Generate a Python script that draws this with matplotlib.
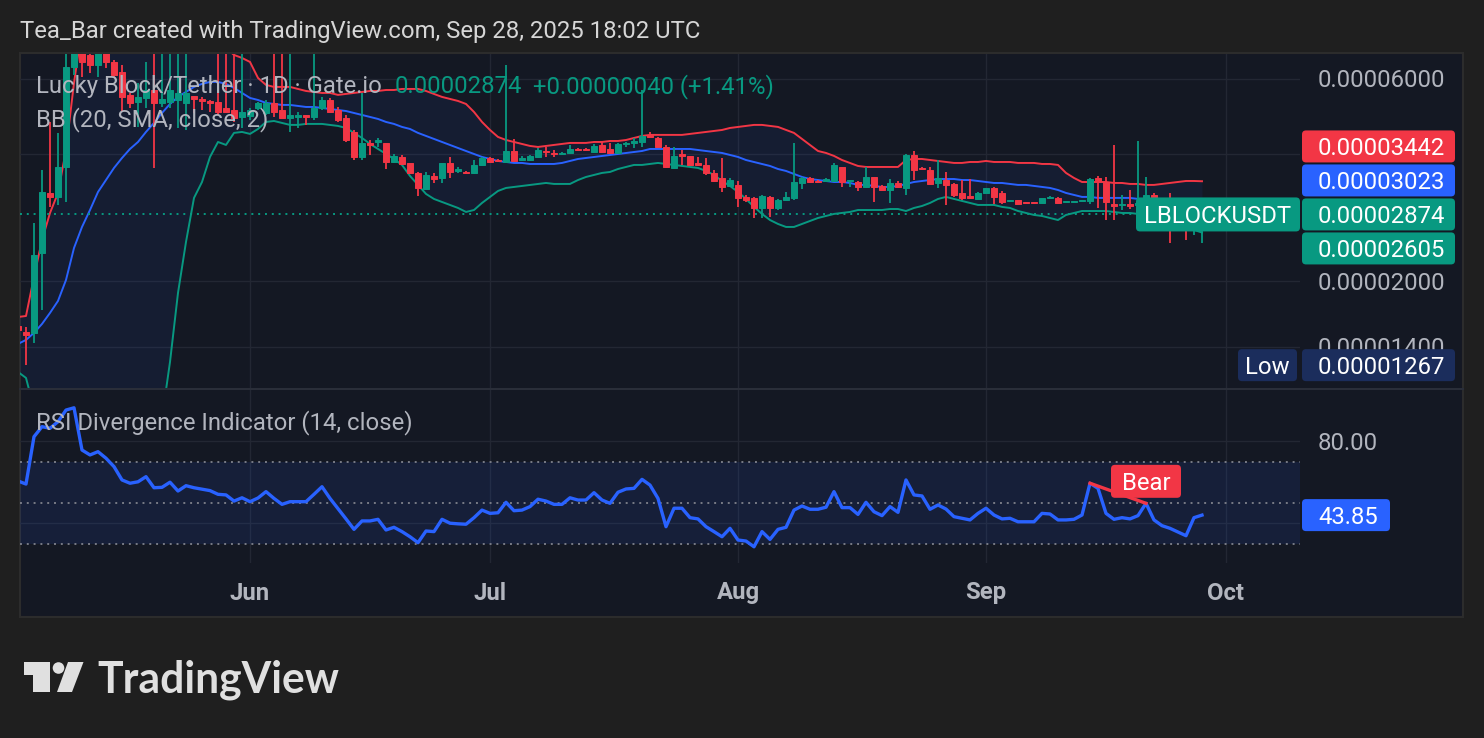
import numpy as np
import pandas as pd
import matplotlib
matplotlib.use("Agg")
import matplotlib.pyplot as plt
import matplotlib.dates as mdates
import matplotlib.transforms as mtransforms
from matplotlib.patches import Rectangle, FancyBboxPatch, Polygon, Circle
from matplotlib.lines import Line2D

plt.rcParams['font.family'] = ['Roboto', 'DejaVu Sans']

# LBLOCK/USDT daily candles on Gate.io, prices in units of 1e-8 USDT
dates = pd.date_range('2025-05-03', '2025-09-28', freq='D')

opens = [1568, 1518, 1510, 2332, 3230, 3161, 3720, 6406, 7338, 6838,
         6476, 6913, 6582, 6234, 5503, 5296, 5413, 5652, 5268, 5296,
         5353, 5268, 5473, 5383, 5325, 5296, 5126, 5069, 4882, 4909,
         5126, 4989, 5268, 5069, 4856, 4882, 4936, 4882, 5126, 5353,
         5069, 4856, 4500, 3928, 4239, 4261, 4239, 3822, 3928, 3802,
         3601, 3300, 3543, 3504, 3802, 3640, 3620, 3601, 3761, 3906,
         3863, 3822, 4057, 3863, 3863, 3928, 4057, 4014, 3993, 4014,
         4102, 4102, 4036, 4193, 4102, 4014, 4216, 4239, 4261, 4428,
         4355, 4147, 3700, 3993, 3950, 3802, 3761, 3601, 3504, 3355,
         3374, 3161, 3144, 2977, 3161, 2977, 3109, 3144, 3410, 3504,
         3447, 3447, 3447, 3720, 3447, 3428, 3337, 3523, 3355, 3282,
         3410, 3319, 3971, 3700, 3659, 3410, 3465, 3392, 3230, 3178,
         3126, 3230, 3319, 3230, 3092, 3109, 3076, 3076, 3059, 3144,
         3144, 3076, 3076, 3092, 3092, 3504, 3428, 3042, 3026, 3042,
         3026, 3059, 3196, 3126, 3026, 2714, 2866, 2714, 2834]
highs = [1576, 1559, 2744, 3659, 4751, 4476, 7220, 7831, 7831, 7220,
         7220, 7220, 6653, 6476, 5562, 5873, 6582, 7220, 7220, 7220,
         7220, 7220, 5473, 5443, 5353, 7220, 7220, 7220, 7220, 5126,
         5296, 5353, 7220, 7220, 7220, 5016, 4936, 7220, 5443, 5413,
         5154, 4936, 4548, 5562, 4307, 4355, 4239, 3993, 3971, 3802,
         3620, 3620, 3601, 3802, 3928, 3720, 3640, 3863, 3928, 3928,
         3885, 6476, 4331, 3950, 3971, 4125, 4147, 4079, 4036, 4193,
         4125, 4125, 4216, 4261, 4239, 4239, 4261, 4355, 5652, 4500,
         4379, 4193, 4147, 4079, 3950, 3928, 3906, 3659, 3906, 3504,
         3447, 3196, 3161, 3196, 3178, 3126, 3247, 4239, 3523, 3523,
         3465, 3504, 3802, 3720, 3465, 3447, 3720, 3523, 3374, 3484,
         3447, 3993, 4057, 3720, 3720, 3863, 3620, 3410, 3465, 3484,
         3247, 3319, 3337, 3265, 3109, 3109, 3076, 3076, 3144, 3178,
         3161, 3092, 3092, 3109, 3504, 3543, 3523, 4193, 3196, 3282,
         4284, 3523, 3230, 3120, 3230, 2819, 2944, 2874, 2944]
lows = [1518, 1267, 1430, 1710, 2994, 3026, 3076, 6134, 6067, 6200,
        6067, 6371, 6034, 5016, 5126, 4624, 5126, 3700, 5154, 5126,
        4598, 4548, 4989, 5069, 5016, 4936, 4989, 4751, 4598, 4802,
        5069, 4936, 4882, 4856, 4500, 4598, 4675, 4802, 5069, 4989,
        4751, 4261, 3863, 3863, 3971, 4147, 3679, 3802, 3761, 3601,
        3178, 3282, 3410, 3410, 3504, 3601, 3581, 3581, 3740, 3802,
        3822, 3802, 3822, 3843, 3843, 3906, 3928, 3928, 3971, 3993,
        4057, 4057, 4014, 4014, 4014, 3993, 4147, 4125, 4147, 4379,
        4147, 3700, 3679, 3761, 3761, 3761, 3562, 3428, 3247, 3337,
        2994, 3076, 2819, 2819, 2835, 2944, 3092, 3109, 3300, 3410,
        3410, 3428, 3428, 3337, 3337, 3265, 3319, 3076, 3265, 3059,
        3319, 3196, 3465, 3679, 3374, 3319, 3026, 3161, 3109, 3126,
        3109, 3230, 3042, 3042, 3076, 3042, 3059, 3059, 3059, 3144,
        3042, 3076, 3076, 3092, 3042, 2977, 2788, 2788, 2944, 2960,
        2897, 3042, 3109, 2866, 2461, 2670, 2501, 2571, 2461]
closes = [1534, 1494, 2306, 3247, 3161, 3720, 6406, 7338, 6582, 6476,
          6913, 6582, 6134, 5443, 5268, 5443, 5652, 5268, 5383, 5652,
          5562, 5562, 5383, 5325, 5268, 5016, 5016, 4856, 5016, 5069,
          5268, 5268, 5016, 4856, 4936, 4936, 4882, 5126, 5353, 5016,
          4802, 4307, 3928, 4239, 4193, 4307, 3822, 3950, 3781, 3601,
          3319, 3562, 3484, 3802, 3620, 3679, 3601, 3761, 3906, 3822,
          3843, 4057, 3843, 3906, 3950, 4079, 4036, 3993, 4014, 4102,
          4079, 4079, 4170, 4036, 4014, 4216, 4239, 4284, 4403, 4379,
          4147, 3720, 3950, 3950, 3761, 3761, 3601, 3447, 3337, 3465,
          3144, 3109, 2977, 3178, 2977, 3109, 3161, 3428, 3504, 3428,
          3428, 3484, 3761, 3428, 3465, 3337, 3523, 3337, 3282, 3410,
          3337, 3971, 3659, 3679, 3392, 3504, 3374, 3196, 3144, 3144,
          3230, 3319, 3161, 3076, 3109, 3042, 3059, 3059, 3144, 3161,
          3059, 3092, 3092, 3109, 3484, 3447, 3076, 3009, 3042, 3009,
          3059, 3196, 3126, 2944, 2714, 2788, 2714, 2834, 2874]

# Bollinger Bands (20, SMA, close, 2), same units
bb_upper = [1646, 1655, 2047, 2501, 2897, 3230, 4079, 5873, 7900, 8500,
            9000, 9300, 9500, 9500, 9400, 9200, 9000, 8800, 8500, 8200,
            7900, 7700, 7500, 7400, 7300, 7200, 7100, 6838, 6727, 6582,
            6034, 5810, 5747, 5747, 5747, 5684, 5622, 5592, 5562, 5562,
            5503, 5532, 5562, 5592, 5622, 5622, 5652, 5652, 5684, 5684,
            5684, 5622, 5532, 5443, 5383, 5325, 5239, 5016, 4751, 4548,
            4379, 4307, 4261, 4216, 4170, 4147, 4170, 4193, 4216, 4239,
            4239, 4239, 4261, 4261, 4284, 4284, 4307, 4355, 4403, 4428,
            4428, 4428, 4428, 4428, 4452, 4476, 4500, 4524, 4548, 4598,
            4624, 4649, 4675, 4675, 4649, 4624, 4548, 4476, 4331, 4193,
            4057, 4014, 3950, 3863, 3802, 3740, 3720, 3720, 3720, 3720,
            3720, 3863, 3885, 3885, 3863, 3843, 3822, 3802, 3802, 3822,
            3822, 3843, 3822, 3822, 3822, 3802, 3802, 3802, 3781, 3781,
            3761, 3601, 3504, 3428, 3428, 3428, 3428, 3410, 3410, 3392,
            3392, 3374, 3374, 3392, 3410, 3428, 3447, 3447, 3442]
bb_basis = [1422, 1453, 1510, 1585, 1683, 1796, 2013, 2395, 2685, 2944,
            3247, 3465, 3700, 3906, 4102, 4261, 4500, 4726, 4989, 5239,
            5443, 5592, 5747, 5842, 5905, 5905, 5842, 5715, 5562, 5413,
            5353, 5268, 5239, 5211, 5211, 5182, 5154, 5154, 5126, 5097,
            5069, 5042, 4989, 4936, 4882, 4829, 4751, 4700, 4624, 4573,
            4476, 4403, 4331, 4261, 4193, 4125, 4057, 3993, 3928, 3885,
            3843, 3822, 3802, 3802, 3781, 3781, 3781, 3781, 3802, 3843,
            3885, 3906, 3928, 3950, 3971, 3993, 4014, 4036, 4057, 4102,
            4102, 4102, 4102, 4102, 4102, 4079, 4057, 4036, 4014, 3971,
            3928, 3863, 3822, 3781, 3740, 3679, 3640, 3581, 3523, 3484,
            3465, 3447, 3428, 3428, 3410, 3374, 3374, 3355, 3337, 3337,
            3355, 3392, 3428, 3447, 3465, 3484, 3484, 3484, 3465, 3465,
            3447, 3428, 3410, 3410, 3392, 3374, 3374, 3355, 3337, 3319,
            3282, 3230, 3196, 3161, 3161, 3144, 3144, 3144, 3144, 3144,
            3126, 3109, 3092, 3076, 3076, 3059, 3042, 3042, 3023]
bb_lower = [1221, 1182, 1000, 820, 700, 620, 420, 300, 250, 240,
            260, 300, 360, 430, 500, 580, 680, 800, 950, 1289,
            1876, 2475, 3144, 3428, 3928, 4261, 4193, 4476, 4500, 4452,
            4573, 4751, 4776, 4726, 4675, 4675, 4700, 4700, 4700, 4675,
            4649, 4598, 4476, 4355, 4216, 4102, 3993, 3885, 3761, 3543,
            3374, 3213, 3126, 3076, 3026, 2977, 2913, 2944, 3059, 3161,
            3265, 3319, 3337, 3355, 3374, 3392, 3410, 3392, 3392, 3392,
            3465, 3523, 3562, 3601, 3620, 3679, 3720, 3761, 3761, 3781,
            3802, 3781, 3761, 3740, 3720, 3700, 3640, 3562, 3447, 3355,
            3247, 3126, 2994, 2882, 2788, 2729, 2685, 2685, 2729, 2773,
            2819, 2850, 2882, 2897, 2913, 2944, 2944, 2944, 2944, 2960,
            2960, 2928, 2977, 3009, 3059, 3126, 3161, 3126, 3092, 3059,
            3026, 3026, 3026, 2994, 2977, 2928, 2897, 2866, 2850, 2819,
            2788, 2866, 2897, 2928, 2928, 2928, 2928, 2913, 2897, 2897,
            2882, 2866, 2835, 2788, 2759, 2714, 2670, 2641, 2605]

# RSI (14, close)
rsi = [60.5, 59.0, 82.1, 87.0, 86.2, 89.4, 95.1, 96.2, 75.6, 73.2,
       74.8, 71.6, 67.5, 61.0, 59.4, 60.1, 62.6, 57.2, 57.4, 59.9,
       55.6, 58.2, 57.2, 56.5, 55.8, 54.0, 53.7, 50.7, 52.3, 50.4,
       52.2, 55.3, 52.0, 49.1, 50.4, 50.4, 50.4, 54.0, 57.7, 52.0,
       47.0, 42.0, 36.9, 41.0, 41.0, 41.8, 36.6, 37.9, 35.8, 33.3,
       30.4, 36.1, 35.8, 41.8, 39.9, 39.6, 39.4, 42.6, 46.3, 44.7,
       45.0, 50.1, 46.0, 46.3, 48.0, 51.6, 50.7, 49.1, 49.1, 52.3,
       51.2, 51.2, 54.8, 51.2, 49.6, 55.0, 56.6, 56.9, 61.3, 58.5,
       52.0, 38.2, 47.2, 47.2, 42.6, 42.0, 38.2, 35.8, 33.3, 37.4,
       31.7, 31.2, 28.4, 35.8, 32.0, 36.9, 37.9, 46.3, 48.3, 46.7,
       46.7, 47.7, 55.3, 47.5, 47.5, 44.2, 50.1, 45.5, 43.6, 48.0,
       45.2, 61.0, 53.7, 53.2, 46.7, 48.8, 46.8, 43.1, 42.3, 41.5,
       44.7, 47.2, 43.9, 42.0, 42.3, 40.6, 40.6, 40.6, 44.7, 44.4,
       41.5, 41.5, 41.8, 43.9, 59.4, 56.9, 44.7, 41.8, 42.6, 42.0,
       43.6, 49.6, 41.5, 38.7, 37.4, 35.6, 33.8, 42.6, 43.85]
bear_dates = pd.to_datetime(['2025-09-14', '2025-09-21'])

month_ticks = pd.to_datetime(['2025-06-01', '2025-07-01', '2025-08-01', '2025-09-01', '2025-10-01'])
month_labels = ['Jun', 'Jul', 'Aug', 'Sep', 'Oct']
price_grid = [6000, 4000, 2000, 1400]
price_labels = [6000, 2000, 1400]   # 4000 sits under the band tags
rsi_grid = [80, 40]
rsi_levels = [70, 50, 30]

SCALE = 1e-8
o, h, l, c = (np.array(a, dtype=float) * SCALE for a in (opens, highs, lows, closes))
bbu, bbm, bbl = (np.array(a, dtype=float) * SCALE for a in (bb_upper, bb_basis, bb_lower))
rsi = np.array(rsi)
x = mdates.date2num(dates)

# colours
BG_OUT = '#1f1f1f'
BG = '#141823'
GRID = '#232733'
UP = '#089981'
DN = '#f23645'
BLUE = '#2962ff'
TXT = '#b2b5be'
FS = 17.2
HALF_CAP = 8.5   # half the digit height in px, to centre digits on a row

W, H = 1484, 738
fig = plt.figure(figsize=(W / 100, H / 100), dpi=100, facecolor=BG_OUT)
ID = mtransforms.IdentityTransform()


def frac(x0, y0, x1, y1):
    return [x0 / W, 1 - y1 / H, (x1 - x0) / W, (y1 - y0) / H]


def ypx(axis, v):
    # pixel row (from top) of a data value
    return H - axis.transData.transform((axis.get_xlim()[0], v))[1]


def xpx(axis, v):
    return axis.transData.transform((v, axis.get_ylim()[0]))[0]


def label(xp, yc, text, color=TXT, ha='left', fs=FS, z=5, **kw):
    # text whose capitals are centred on row yc
    fig.text(xp, H - yc - HALF_CAP, text, transform=ID, color=color, fontsize=fs,
             ha=ha, va='baseline', zorder=z, **kw)


def tag(x0, x1, yc, color, text, hgt=32, center=False):
    fig.add_artist(FancyBboxPatch((x0, H - yc - hgt / 2), x1 - x0, hgt,
                                  boxstyle="round,pad=0,rounding_size=4", transform=ID,
                                  facecolor=color, edgecolor='none', zorder=10))
    tx = (x0 + x1) / 2 if center else x0 + 16
    label(tx, yc, text, color='white', ha='center' if center else 'left', z=11)


# chart frame
fig.add_artist(Rectangle((20, H - 617), 1443, 564, transform=ID, facecolor=BG,
                         edgecolor='#2c2c2c', lw=1.5, zorder=-10))
fig.text(20, H - 38, 'Tea_Bar created with TradingView.com, Sep 28, 2025 18:02 UTC',
         transform=ID, color='#d6d6d6', fontsize=17.2, va='baseline')

jun1 = mdates.date2num(pd.Timestamp('2025-06-01'))

# ---- price pane ----
ax = fig.add_axes(frac(20, 54, 1300, 388))
ax.set_axis_off()
ax.set_yscale('log')
ax.set_xlim(jun1 - 28.75, jun1 + 131.25)
ax.set_ylim(1119 * SCALE, 6873 * SCALE)

for p in price_grid:
    ax.axhline(p * SCALE, color=GRID, lw=1, zorder=0)
for m in month_ticks:
    ax.axvline(mdates.date2num(m), color=GRID, lw=1, zorder=0)

ax.fill_between(x, bbl, bbu, color=BLUE, alpha=0.07, lw=0, zorder=1)
ax.plot(x, bbu, color=DN, lw=1.4, zorder=2)
ax.plot(x, bbm, color=BLUE, lw=1.4, zorder=2)
ax.plot(x, bbl, color=UP, lw=1.4, zorder=2)

cols = np.where(c >= o, UP, DN)
ax.vlines(x, l, h, colors=cols, lw=1.3, zorder=3)
ax.bar(x, c - o, bottom=o, width=0.72, color=cols, edgecolor=cols, lw=0.7, zorder=4)

ax.axhline(c[-1], color=UP, lw=1.4, ls=(0, (1, 2.5)), zorder=2)

for p in price_labels:
    label(1318, ypx(ax, p * SCALE), f"{p * SCALE:.8f}")

# legend
fig.text(36, H - 93, 'Lucky Block/Tether · 1D · Gate.io', transform=ID,
         color=TXT, fontsize=FS, va='baseline', zorder=12)
chg = c[-1] - c[-2]
fig.text(395, H - 93, f"{c[-1]:.8f}", transform=ID, color=UP, fontsize=FS,
         va='baseline', zorder=12)
fig.text(533, H - 93, f"{chg:+.8f} ({chg / c[-2] * 100:+.2f}%)", transform=ID,
         color=UP, fontsize=FS, va='baseline', zorder=12)
fig.text(36, H - 126, 'BB (20, SMA, close, 2)', transform=ID, color=TXT,
         fontsize=FS, va='baseline', zorder=12)

# price tags
y_last = ypx(ax, c[-1])
tag(1302, 1455, y_last - 68, DN, f"{bbu[-1]:.8f}")
tag(1302, 1455, y_last - 34, BLUE, f"{bbm[-1]:.8f}")
tag(1302, 1455, y_last, UP, f"{c[-1]:.8f}")
tag(1302, 1455, y_last + 34, UP, f"{bbl[-1]:.8f}")
tag(1136, 1300, y_last, UP, 'LBLOCKUSDT', hgt=34, center=True)
y_low = ypx(ax, l.min())
tag(1238, 1297, y_low, '#1b2d5c', 'Low', center=True)
tag(1302, 1455, y_low, '#1b2d5c', f"{l.min():.8f}")

# pane separator
fig.add_artist(Line2D([20, 1463], [H - 389, H - 389], transform=ID, color='#2a2e39', lw=1.5))

# ---- RSI pane ----
ar = fig.add_axes(frac(20, 390, 1300, 563))
ar.set_axis_off()
ar.set_xlim(jun1 - 28.75, jun1 + 131.25)
ar.set_ylim(20.49, 104.88)
for m in month_ticks:
    ar.axvline(mdates.date2num(m), color=GRID, lw=1, zorder=0)
for g in rsi_grid:
    ar.axhline(g, color=GRID, lw=1, zorder=0)
ar.axhspan(min(rsi_levels), max(rsi_levels), color=BLUE, alpha=0.1, lw=0, zorder=0)
for lv in rsi_levels:
    ar.axhline(lv, color='#787b86', lw=1.4, ls=(0, (1, 2.5)), zorder=1)
ar.plot(x, rsi, color=BLUE, lw=2.4, zorder=3, solid_joinstyle='round')

bi = [dates.get_loc(d) for d in bear_dates]
ar.plot(x[bi], rsi[bi], color=DN, lw=2.4, zorder=4)
bx, by = xpx(ar, x[bi[1]]), ypx(ar, rsi[bi[1]])
fig.add_artist(FancyBboxPatch((bx - 35, H - (by - 22) - 16.5), 70, 33,
                              boxstyle="round,pad=0,rounding_size=4", transform=ID,
                              facecolor=DN, edgecolor='none', zorder=10))
label(bx, by - 22, 'Bear', color='white', ha='center', z=11)

fig.text(36, H - 429, 'RSI Divergence Indicator (14, close)', transform=ID,
         color=TXT, fontsize=FS, va='baseline', zorder=12)
label(1318, ypx(ar, 80), '80.00')
tag(1302, 1390, ypx(ar, rsi[-1]), BLUE, f"{rsi[-1]:.2f}")

# time axis
for m, lab in zip(month_ticks, month_labels):
    label(xpx(ar, mdates.date2num(m)), 591, lab, ha='center', fontweight='bold')

# TradingView logo
LOGO = '#e0e0e0'
fig.add_artist(Polygon([(24, H - 662), (50, H - 662), (50, H - 692), (33, H - 692),
                        (33, H - 675), (24, H - 675)], closed=True, transform=ID,
                       facecolor=LOGO, edgecolor='none'))
fig.add_artist(Circle((58.5, H - 668), 5.8, transform=ID, facecolor=LOGO, edgecolor='none'))
fig.add_artist(Polygon([(68, H - 662), (83.5, H - 662), (72, H - 692), (57, H - 692)],
                       closed=True, transform=ID, facecolor=LOGO, edgecolor='none'))
fig.text(97, H - 692, 'TradingView', transform=ID, color=LOGO, fontsize=30.7,
         fontweight='bold', family=['Lato', 'DejaVu Sans'], va='baseline')

fig.savefig('out.png', dpi=100, facecolor=BG_OUT)
